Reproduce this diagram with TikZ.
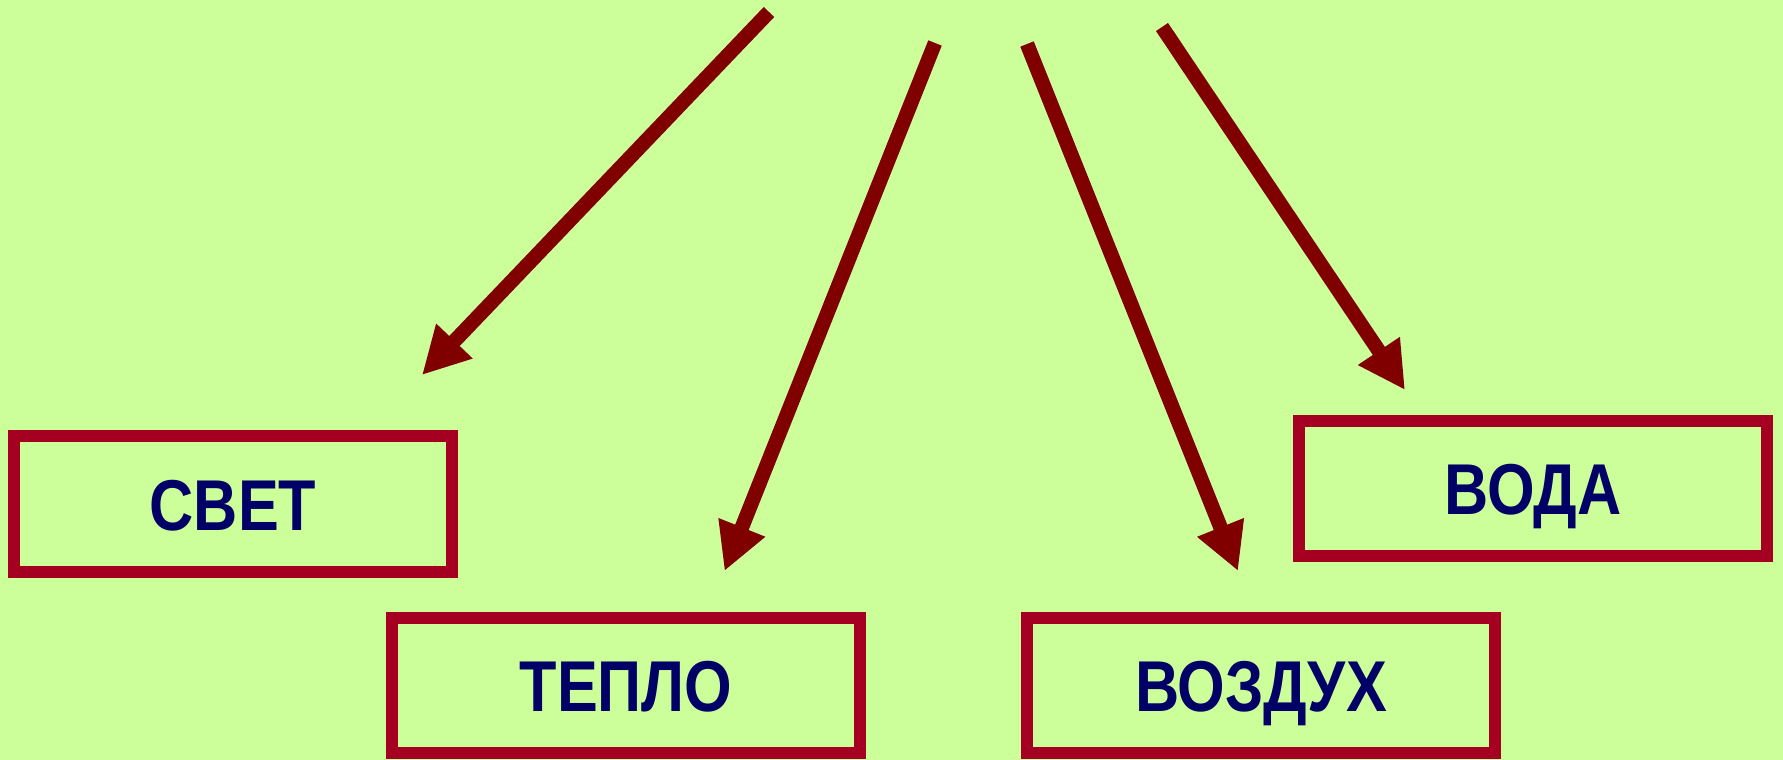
\documentclass[tikz,border=0pt]{standalone}
\usepackage{fontspec}
\newfontfamily\boxfont{Liberation Sans}[FakeStretch=0.85]
\usetikzlibrary{arrows.meta}
\definecolor{bgc}{RGB}{204,255,153}
\definecolor{boxred}{RGB}{165,0,33}
\definecolor{arrred}{RGB}{128,0,0}
\definecolor{navy}{RGB}{0,0,102}
\tikzset{
  labelbox/.style={draw=boxred, line width=12pt, inner sep=0pt, align=center,
    text=navy, font=\boxfont\bfseries\fontsize{72}{72}\selectfont,
    text height=52pt, text depth=0pt, minimum height=136pt},
  bigarrow/.style={draw=arrred, line width=14.5pt,
    -{Triangle[length=47pt,width=47pt]}, line cap=butt}
}
\begin{document}
\begin{tikzpicture}[x=1pt,y=-1pt]
\useasboundingbox (0,0) rectangle (1783,760);
\fill[bgc] (0,0) rectangle (1783,760);
% boxes
\node[labelbox, minimum width=438pt] (svet) at (233,504) {СВЕТ};
\node[labelbox, minimum width=468pt, minimum height=135pt] (teplo) at (626,685.5) {ТЕПЛО};
\node[labelbox, minimum width=468pt, minimum height=135pt] (vozduh) at (1261,685.5) {ВОЗДУХ};
\node[labelbox, minimum width=468pt, minimum height=135pt] (voda) at (1533,488.5) {ВОДА};
% arrow end points
\coordinate (s1) at (769,12);   \coordinate (t1) at (422,375);
\coordinate (s2) at (935,43);   \coordinate (t2) at (724.5,571);
\coordinate (s3) at (1027,44);  \coordinate (t3) at (1238,571);
\coordinate (s4) at (1162,27);  \coordinate (t4) at (1405,390);
\draw[bigarrow] (s1) -- (t1);
\draw[bigarrow] (s2) -- (t2);
\draw[bigarrow] (s3) -- (t3);
\draw[bigarrow] (s4) -- (t4);
\end{tikzpicture}
\end{document}
